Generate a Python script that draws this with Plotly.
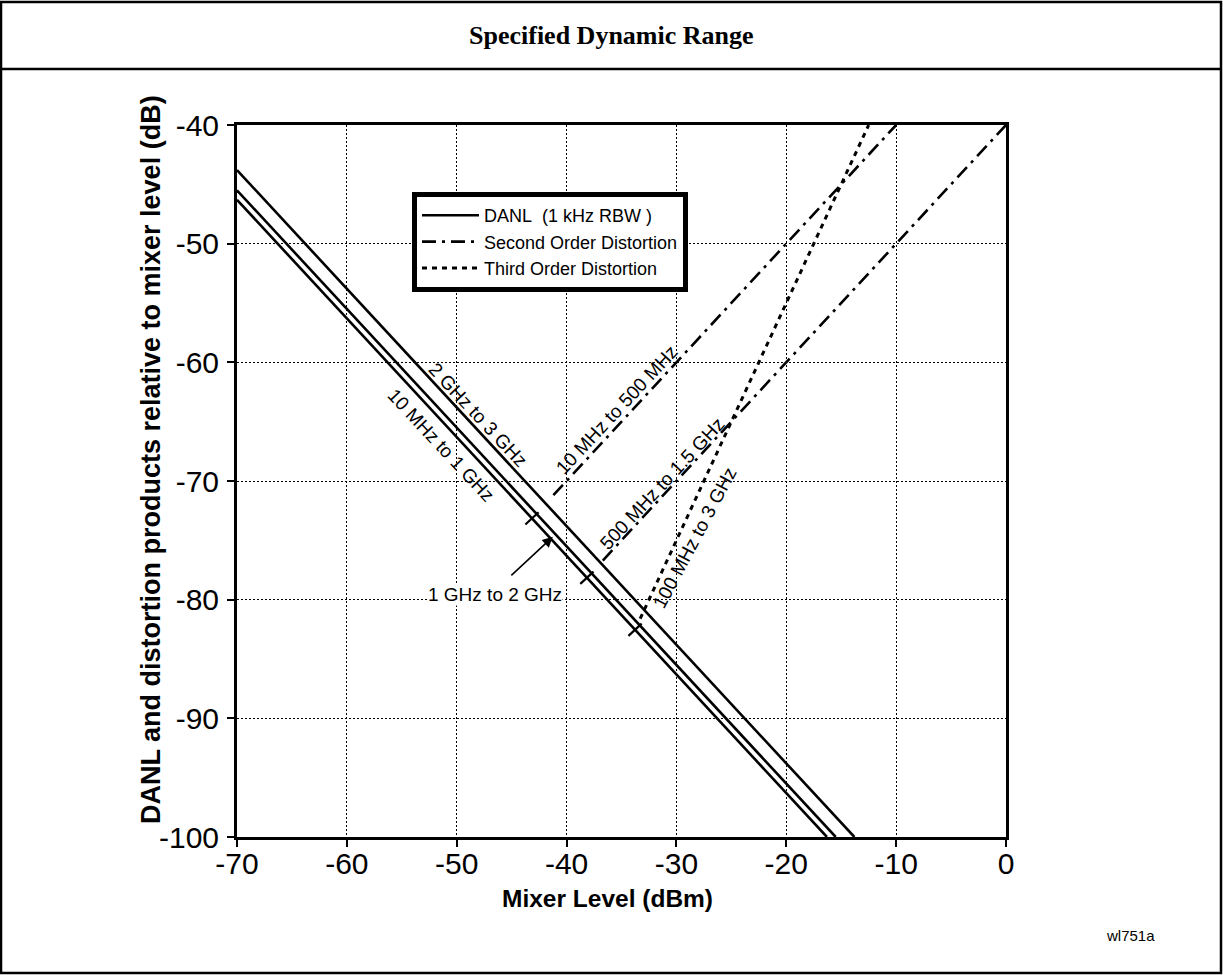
import math
import plotly.graph_objects as go

# ---------------- data ----------------
x_ticks = [-70, -60, -50, -40, -30, -20, -10, 0]
y_ticks = [-40, -50, -60, -70, -80, -90, -100]

# DANL (1 kHz RBW) lines: mixer level vs DANL relative to mixer level
danl_2g_3g_x = [-70, -13.8]
danl_2g_3g_y = [-43.8, -100]
danl_1g_2g_x = [-70, -15.5]
danl_1g_2g_y = [-45.5, -100]
danl_10m_1g_x = [-70, -16.3]
danl_10m_1g_y = [-46.3, -100]

# Second order distortion
sod_10m_500m_x = [-41.2, -10]
sod_10m_500m_y = [-71.2, -40]
sod_500m_1g5_x = [-36.7, 0]
sod_500m_1g5_y = [-76.7, -40]

# Third order distortion
tod_100m_3g_x = [-33.3, -12.5]
tod_100m_3g_y = [-81.6, -40]

# ---------------- layout geometry (pixels) ----------------
W, H = 1223, 975
L, R, T, B = 237, 1006, 125, 837   # plot area edges in px
XR = [-70, 0]
YR = [-100, -40]


def px(xpix):
    return (xpix - L) / (R - L)


def py(ypix):
    return (B - ypix) / (B - T)


SOD_DASH = "14px,6px,3px,6px"
TOD_DASH = "5px,5px"
LW = 2.6
FONT = "Arial, Liberation Sans, sans-serif"
NARROW = "Liberation Sans Narrow, Arial Narrow, Arial, sans-serif"

fig = go.Figure()

# DANL lines
fig.add_trace(go.Scatter(x=danl_2g_3g_x, y=danl_2g_3g_y, mode="lines",
                         line=dict(color="black", width=LW),
                         name="DANL\u00a0\u00a0(1 kHz RBW\u00a0)", legendgroup="danl", showlegend=True))
fig.add_trace(go.Scatter(x=danl_1g_2g_x, y=danl_1g_2g_y, mode="lines",
                         line=dict(color="black", width=LW),
                         legendgroup="danl", showlegend=False))
fig.add_trace(go.Scatter(x=danl_10m_1g_x, y=danl_10m_1g_y, mode="lines",
                         line=dict(color="black", width=LW),
                         legendgroup="danl", showlegend=False))

# Second order
fig.add_trace(go.Scatter(x=sod_10m_500m_x, y=sod_10m_500m_y, mode="lines",
                         line=dict(color="black", width=LW, dash=SOD_DASH),
                         name="Second Order Distortion", legendgroup="sod", showlegend=True))
fig.add_trace(go.Scatter(x=sod_500m_1g5_x, y=sod_500m_1g5_y, mode="lines",
                         line=dict(color="black", width=LW, dash=SOD_DASH),
                         legendgroup="sod", showlegend=False))

# Third order
fig.add_trace(go.Scatter(x=tod_100m_3g_x, y=tod_100m_3g_y, mode="lines",
                         line=dict(color="black", width=LW + 0.4, dash=TOD_DASH),
                         name="Third Order Distortion", legendgroup="tod", showlegend=True))


# ---------------- intersection tick marks on the DANL line ----------------
def line_coeffs(xs, ys):
    m = (ys[1] - ys[0]) / (xs[1] - xs[0])
    return m, ys[0] - m * xs[0]


def intersect(a, b):
    m1, c1 = line_coeffs(*a)
    m2, c2 = line_coeffs(*b)
    xi = (c2 - c1) / (m1 - m2)
    return xi, m1 * xi + c1


ux = (XR[1] - XR[0]) / (R - L)      # data units per px
uy = (YR[1] - YR[0]) / (B - T)
sx, sy = 1 / ux, 1 / uy
n = math.hypot(sx, sy)
perp = (sy / n, sx / n)            # perpendicular to DANL on screen
half = 9
danl_ref = (danl_10m_1g_x, danl_10m_1g_y)
for dist in [(sod_10m_500m_x, sod_10m_500m_y), (sod_500m_1g5_x, sod_500m_1g5_y),
             (tod_100m_3g_x, tod_100m_3g_y)]:
    xi, yi = intersect(danl_ref, dist)
    fig.add_shape(type="line", xref="x", yref="y",
                  x0=xi - half * perp[0] * ux, y0=yi - half * perp[1] * uy,
                  x1=xi + half * perp[0] * ux, y1=yi + half * perp[1] * uy,
                  line=dict(color="black", width=2.2))

# ---------------- annotations ----------------
lab_font = dict(family=FONT, size=19, color="black")
annots = [
    dict(x=-48.1, y=-64.4, text="2 GHz to 3 GHz", textangle=47),
    dict(x=-51.4, y=-67.0, text="10 MHz to 1 GHz", textangle=47),
    dict(x=-35.4, y=-64.0, text="10 MHz to 500 MHz", textangle=-47),
    dict(x=-31.3, y=-70.2, text="500 MHz to 1.5 GHz", textangle=-47),
    dict(x=-28.3, y=-74.8, text="100 MHz to 3 GHz", textangle=-62),
]
for a in annots:
    fig.add_annotation(x=a["x"], y=a["y"], xref="x", yref="y", text=a["text"],
                       textangle=a["textangle"], showarrow=False, font=lab_font,
                       xanchor="center", yanchor="middle")

# "1 GHz to 2 GHz" label with white background and arrow
fig.add_annotation(x=-46.5, y=-79.6, xref="x", yref="y", text="1 GHz to 2 GHz",
                   showarrow=False, font=dict(family=FONT, size=19, color="black"),
                   bgcolor="white", borderpad=0, xanchor="center", yanchor="middle")
fig.add_annotation(x=-41.25, y=-74.7, xref="x", yref="y", text="", showarrow=True,
                   ax=-43, ay=40, arrowhead=2, arrowsize=1.3, arrowwidth=1.6, arrowcolor="black")

# y-axis title
fig.add_annotation(x=px(151), y=py(460), xref="paper", yref="paper",
                   text="<b>DANL and distortion products relative to mixer level (dB)</b>",
                   textangle=-90, showarrow=False,
                   font=dict(family=NARROW, size=27, color="black"),
                   xanchor="center", yanchor="middle")
# x-axis title
fig.add_annotation(x=px(607), y=py(898), xref="paper", yref="paper",
                   text="<b>Mixer Level (dBm)</b>", showarrow=False,
                   font=dict(family=FONT, size=24.5, color="black"),
                   xanchor="center", yanchor="middle")
# title
fig.add_annotation(x=px(611), y=py(35), xref="paper", yref="paper",
                   text="<b>Specified Dynamic Range</b>", showarrow=False,
                   font=dict(family="Liberation Serif, Times New Roman, serif", size=26, color="black"),
                   xanchor="center", yanchor="middle")
# figure id
fig.add_annotation(x=px(1130), y=py(935), xref="paper", yref="paper",
                   text="wl751a", showarrow=False,
                   font=dict(family=FONT, size=15, color="black"),
                   xanchor="center", yanchor="middle")

# ---------------- frame shapes ----------------
fig.add_shape(type="rect", xref="paper", yref="paper",
              x0=px(1), x1=px(1221), y0=py(973), y1=py(2),
              line=dict(color="black", width=2.5), layer="below")
fig.add_shape(type="line", xref="paper", yref="paper",
              x0=px(1), x1=px(1221), y0=py(69), y1=py(69),
              line=dict(color="black", width=2.5))

# ---------------- axes ----------------
tick_font = dict(family=FONT, size=30, color="black")
grid_common = dict(showgrid=True, gridcolor="black", gridwidth=1.3, griddash="1.5px,2.5px",
                   showline=True, linecolor="black", linewidth=3, mirror=True,
                   ticks="outside", ticklen=7, tickwidth=2, tickcolor="black",
                   zeroline=False, tickfont=tick_font)
fig.update_xaxes(range=XR, tickvals=x_ticks, ticktext=[str(v) for v in x_ticks],
                 ticklabelstandoff=-9, **grid_common)
fig.update_yaxes(range=YR, tickvals=y_ticks, ticktext=[str(v) for v in y_ticks],
                 ticklabelstandoff=2, **grid_common)

fig.update_layout(
    width=W, height=H,
    margin=dict(l=L, r=W - R, t=T, b=H - B, pad=0),
    paper_bgcolor="white", plot_bgcolor="white",
    showlegend=True,
    legend=dict(x=px(412), y=py(192), xanchor="left", yanchor="top",
                bgcolor="white", bordercolor="black", borderwidth=5,
                font=dict(family=FONT, size=18, color="black"),
                itemwidth=57, tracegroupgap=0),
)

fig.write_html("out.html", config={"displayModeBar": False},
               post_script="document.body.style.margin='0';")
